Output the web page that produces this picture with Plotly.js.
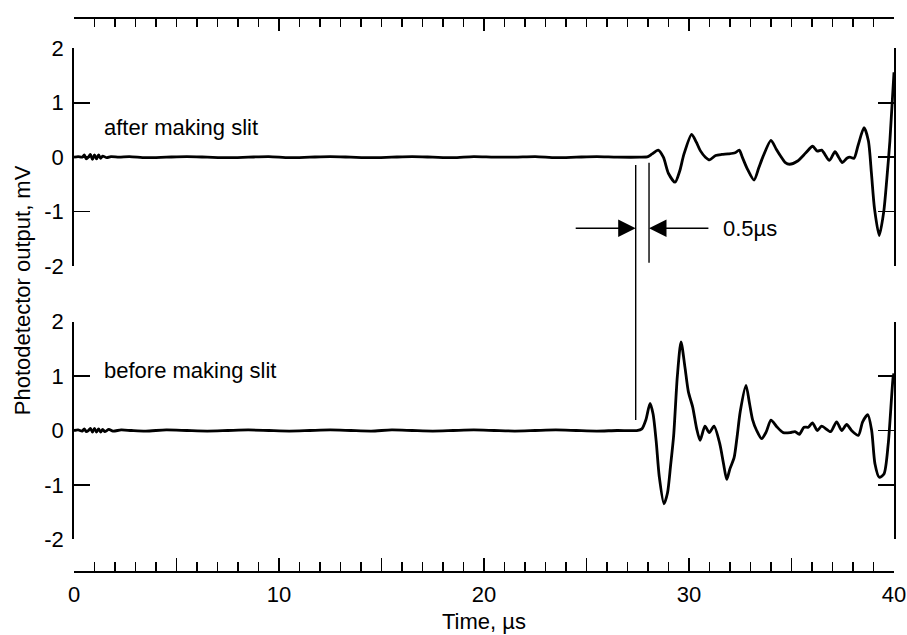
<!DOCTYPE html>
<html>
<head>
<meta charset="utf-8">
<script src="https://cdn.plot.ly/plotly-3.0.1.min.js"></script>
<style>html,body{margin:0;padding:0;background:#fff;}</style>
</head>
<body>
<div id="chart" style="width:907px;height:635px;"></div>
<script>
// "after making slit" trace (time in µs, output in mV)
const afterX = [0, 0.2, 0.4, 0.5, 0.6, 0.7, 0.8, 0.9, 1.0, 1.1, 1.2, 1.3, 1.4, 1.6, 1.8, 2.2, 2.7, 3.5, 4.5, 5.5, 6.5, 7.5, 8.5, 9.5, 10.5, 11.5, 12.5, 13.5, 14.5, 15.5, 16.5, 17.5, 18.5, 19.5, 20.5, 21.5, 22.5, 23.5, 24.5, 25.5, 26.5, 27.6,
  28.0, 28.2, 28.5, 28.75, 29.0, 29.32, 29.55, 29.75, 30.13, 30.35, 30.55, 30.8, 31.0, 31.3, 31.6, 31.9, 32.25, 32.45, 32.6, 32.85, 33.17, 33.4, 33.6, 34.0, 34.25, 34.45, 34.7, 34.9, 35.3, 35.7, 36.03, 36.26, 36.47, 36.85, 37.12, 37.3, 37.48, 37.7, 37.85, 38.05, 38.25, 38.54, 38.75, 38.9, 39.05, 39.28, 39.5, 39.65, 39.8, 40.0];
const afterY = [0, 0.01, 0.0, 0.04, -0.03, 0.0, 0.05, -0.04, 0.04, -0.03, 0.04, -0.02, 0.02, -0.01, 0.01, 0.0, 0.01, -0.01, 0.0, 0.01, 0.0, -0.01, 0.0, 0.01, -0.01, 0.0, 0.01, 0.0, -0.01, 0.0, 0.01, 0.0, -0.01, 0.01, 0.0, 0.0, 0.01, -0.01, 0.0, 0.01, 0.0, 0.0,
  0.01, 0.06, 0.13, 0.0, -0.3, -0.46, -0.25, 0.05, 0.42, 0.28, 0.12, 0.0, -0.05, 0.03, 0.05, 0.06, 0.08, 0.13, 0.0, -0.22, -0.42, -0.2, 0.0, 0.31, 0.15, 0.03, -0.1, -0.13, -0.07, 0.08, 0.2, 0.11, 0.13, -0.06, 0.1, 0.0, -0.1, -0.02, 0.0, -0.02, 0.22, 0.54, 0.3, -0.3, -0.95, -1.44, -1.0, -0.4, 0.3, 1.56];

// "before making slit" trace
const beforeX = [0, 0.2, 0.4, 0.5, 0.6, 0.7, 0.8, 0.9, 1.0, 1.1, 1.2, 1.3, 1.4, 1.5, 1.7, 1.9, 2.3, 2.8, 3.5, 4.5, 5.5, 6.5, 7.5, 8.5, 9.5, 10.5, 11.5, 12.5, 13.5, 14.5, 15.5, 16.5, 17.5, 18.5, 19.5, 20.5, 21.5, 22.5, 23.5, 24.5, 25.5, 26.5, 27.45,
  27.7, 27.9, 28.1, 28.25, 28.4, 28.55, 28.78, 28.95, 29.1, 29.25, 29.43, 29.61, 29.8, 29.97, 30.18, 30.37, 30.54, 30.78, 30.99, 31.22, 31.5, 31.68, 31.84, 32.0, 32.2, 32.35, 32.5, 32.78, 32.95, 33.1, 33.3, 33.54, 33.76, 34.0, 34.28, 34.6, 34.93, 35.17, 35.38, 35.61, 35.82, 36.02, 36.26, 36.47, 36.91, 37.2, 37.45, 37.69, 37.93, 38.26, 38.47, 38.72, 38.91, 39.07, 39.28, 39.51, 39.72, 39.96, 40.0];
const beforeY = [0, 0.01, -0.01, 0.03, -0.02, 0.0, 0.04, -0.03, 0.04, -0.03, 0.03, -0.03, 0.02, -0.02, 0.02, -0.01, 0.01, 0.0, -0.01, 0.01, 0.0, -0.01, 0.0, 0.01, 0.0, -0.01, 0.0, 0.01, 0.0, -0.01, 0.01, 0.0, -0.01, 0.0, 0.01, 0.0, -0.01, 0.0, 0.01, 0.0, -0.01, 0.0, 0.0,
  0.03, 0.2, 0.5, 0.3, -0.2, -0.85, -1.35, -1.15, -0.65, -0.1, 0.99, 1.63, 1.17, 0.71, 0.43, 0.04, -0.18, 0.08, -0.04, 0.08, -0.24, -0.6, -0.9, -0.7, -0.5, -0.1, 0.35, 0.83, 0.5, 0.2, 0.0, -0.15, -0.03, 0.19, 0.07, -0.04, -0.04, -0.02, -0.07, 0.06, 0.06, 0.14, 0.0, 0.08, -0.02, 0.16, 0.0, 0.11, 0.0, -0.09, 0.16, 0.29, 0.0, -0.61, -0.86, -0.8, -0.24, 0.99, 1.05];

const xRange = [0, 40];
const yRange = [-2, 2];
const xMajorTicks = [0, 5, 10, 15, 20, 25, 30, 35, 40];
const xTickText = ['0', '', '10', '', '20', '', '30', '', '40'];
const yTicks = [-2, -1, 0, 1, 2];
const yTickText = ['-2', '-1', '0', '1', '2'];

const panelLabels = ['after making slit', 'before making slit'];
const intervalLabel = '0.5\u00b5s';
const markerTimes = [27.4, 28.05];

const FONT = 'Liberation Sans, Arial, Helvetica, sans-serif';
const FS = 22;
const lineStyle = {color: '#000', width: 2.8, shape: 'spline', smoothing: 0.7};

const traces = [
  {x: afterX, y: afterY, xaxis: 'x', yaxis: 'y', type: 'scatter', mode: 'lines', line: lineStyle, hoverinfo: 'skip', showlegend: false},
  {x: beforeX, y: beforeY, xaxis: 'x', yaxis: 'y2', type: 'scatter', mode: 'lines', line: lineStyle, hoverinfo: 'skip', showlegend: false},
  {x: xRange, y: [0, 0], xaxis: 'x2', yaxis: 'y', type: 'scatter', mode: 'lines', opacity: 0, line: {width: 0}, hoverinfo: 'skip', showlegend: false}
];

const yAxisBase = {
  range: yRange, tickmode: 'array', tickvals: yTicks, ticktext: yTickText,
  ticks: 'inside', ticklen: 16, tickwidth: 1.6, tickcolor: '#000',
  showline: true, linecolor: '#000', linewidth: 1.8, mirror: 'ticks',
  showgrid: false, zeroline: false, anchor: 'x',
  tickfont: {family: FONT, size: FS, color: '#000'}, ticklabelstandoff: 4
};

const layout = {
  width: 907, height: 635, autosize: false,
  margin: {l: 74, r: 13, t: 17, b: 64, pad: 0},
  paper_bgcolor: '#fff', plot_bgcolor: '#fff',
  font: {family: FONT, size: FS, color: '#000'},
  xaxis: {
    range: xRange, anchor: 'free', position: 0,
    tickmode: 'array', tickvals: xMajorTicks, ticktext: xTickText,
    ticks: 'inside', ticklen: 13, tickwidth: 1.6, tickcolor: '#000',
    minor: {dtick: 1, tick0: 0, ticks: 'inside', ticklen: 9, tickwidth: 1.6, tickcolor: '#000', showgrid: false},
    showline: true, linecolor: '#000', linewidth: 1.8,
    showgrid: false, zeroline: false,
    tickfont: {family: FONT, size: FS, color: '#000'}, ticklabelstandoff: 3
  },
  xaxis2: {
    range: xRange, overlaying: 'x', side: 'top', anchor: 'free', position: 1,
    tickmode: 'array', tickvals: xMajorTicks, ticktext: xTickText,
    ticks: 'inside', ticklen: 12, tickwidth: 1.6, tickcolor: '#000',
    minor: {dtick: 1, tick0: 0, ticks: 'inside', ticklen: 8, tickwidth: 1.6, tickcolor: '#000', showgrid: false},
    showline: true, linecolor: '#000', linewidth: 1.8,
    showgrid: false, zeroline: false, showticklabels: false
  },
  yaxis: Object.assign({}, yAxisBase, {domain: [0.5505, 0.9435]}),
  yaxis2: Object.assign({}, yAxisBase, {domain: [0.0572, 0.450]}),
  shapes: [
    {type: 'line', xref: 'x', yref: 'paper', x0: markerTimes[0], x1: markerTimes[0], y0: 0.2726, y1: 0.733, line: {color: '#000', width: 1.4}},
    {type: 'line', xref: 'x', yref: 'paper', x0: markerTimes[1], x1: markerTimes[1], y0: 0.5565, y1: 0.737, line: {color: '#000', width: 1.4}}
  ],
  annotations: [
    {x: markerTimes[0], y: -1.305, xref: 'x', yref: 'y', ax: 24.4, ay: -1.305, axref: 'x', ayref: 'y', text: '', showarrow: true, arrowhead: 2, arrowsize: 2.5, arrowwidth: 1.4, arrowcolor: '#000'},
    {x: markerTimes[1], y: -1.305, xref: 'x', yref: 'y', ax: 31.02, ay: -1.305, axref: 'x', ayref: 'y', text: '', showarrow: true, arrowhead: 2, arrowsize: 2.5, arrowwidth: 1.4, arrowcolor: '#000'},
    {x: 31.55, y: -1.305, xref: 'x', yref: 'y', text: intervalLabel, showarrow: false, xanchor: 'left', yanchor: 'middle', font: {family: FONT, size: FS}},
    {x: 1.35, y: 0.546, xref: 'x', yref: 'y', text: panelLabels[0], showarrow: false, xanchor: 'left', yanchor: 'middle', font: {family: FONT, size: FS}},
    {x: 1.35, y: 1.11, xref: 'x', yref: 'y2', text: panelLabels[1], showarrow: false, xanchor: 'left', yanchor: 'middle', font: {family: FONT, size: FS}},
    {x: -0.0634, y: 0.507, xref: 'paper', yref: 'paper', text: 'Photodetector output, mV', textangle: -90, showarrow: false, xanchor: 'center', yanchor: 'middle', font: {family: FONT, size: FS}},
    {x: 0.5, y: -0.0915, xref: 'paper', yref: 'paper', text: 'Time, \u00b5s', showarrow: false, xanchor: 'center', yanchor: 'middle', borderpad: 0, font: {family: FONT, size: FS}}
  ]
};

Plotly.newPlot('chart', traces, layout, {staticPlot: true, displayModeBar: false});
</script>
</body>
</html>
